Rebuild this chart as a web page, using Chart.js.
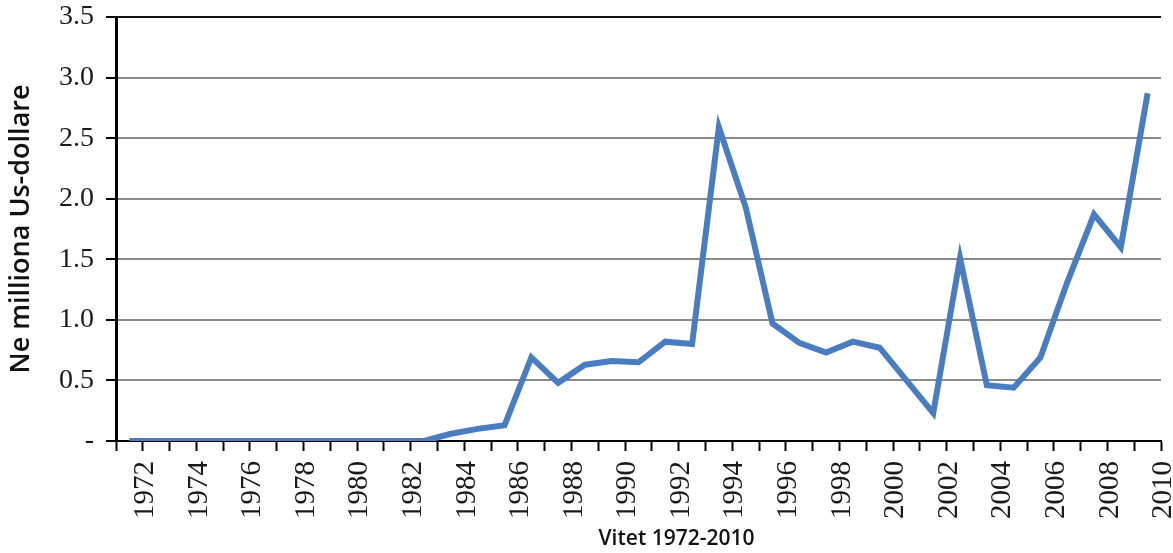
<!DOCTYPE html>
<html>
<head>
<meta charset="utf-8">
<script src="https://cdn.jsdelivr.net/npm/chart.js@4.4.1/dist/chart.umd.min.js"></script>
<style>
    html, body { margin: 0; padding: 0; background: #fff; }
    .wrap { width: 1173px; height: 553px; }
</style>
</head>
<body>
<div class="wrap"><canvas id="aidChart"></canvas></div>
<script>
//! te dhenat
const years = [];
for (let y = 1972; y <= 2010; y++) years.push(String(y));

const values = [
    0, 0, 0, 0, 0, 0, 0, 0, 0, 0, 0, 0,      // 1972-1983
    0.06, 0.10, 0.13, 0.69, 0.48, 0.63, 0.66, 0.65, 0.82, 0.80,  // 1984-1993
    2.59, 1.93, 0.97, 0.81, 0.73, 0.82, 0.77, 0.50, 0.23,        // 1994-2002
    1.51, 0.46, 0.44, 0.69, 1.31, 1.87, 1.60, 2.87               // 2003-2010
];

const yTicks = [0, 0.5, 1.0, 1.5, 2.0, 2.5, 3.0, 3.5];
const xTitle = 'Vitet 1972-2010';

//! titulli poshte (pak djathtas si ne origjinal)
const xTitlePlugin = {
    id: 'xTitle',
    afterDraw(chart) {
        const { ctx, chartArea } = chart;
        ctx.save();
        ctx.font = '600 21px "Open Sans", sans-serif';
        ctx.fillStyle = '#111';
        ctx.textAlign = 'center';
        ctx.textBaseline = 'middle';
        ctx.fillText(xTitle, (chartArea.left + chartArea.right) / 2 + 38, 539);
        ctx.restore();
    }
};

const ctx = document.getElementById('aidChart');

const aidChart = new Chart(ctx, {
    type: 'line',
    data: {
        labels: years,
        datasets: [
            {
                label: 'Ne milliona Us-dollare',
                data: values,
                borderColor: '#4a7dc0',
                borderWidth: 6,
                pointRadius: 0,
                tension: 0,
                borderJoinStyle: 'miter',
            },
        ]
    },
    options: {
        responsive: true,
        maintainAspectRatio: false,
        animation: false,
        layout: {
            padding: { top: 0, right: 12, left: 0, bottom: 0 }
        },
        plugins: {
            legend: { display: false },
            tooltip: { enabled: false },
        },
        scales: {
            x: {
                offset: true,
                grid: {
                    offset: true,
                    drawOnChartArea: false,
                    drawTicks: true,
                    tickLength: 10,
                    tickColor: '#000',
                    tickWidth: 2,
                },
                border: { display: true, color: '#000', width: 2 },
                ticks: {
                    autoSkip: false,
                    minRotation: 90,
                    maxRotation: 90,
                    labelOffset: 16,
                    padding: 10,
                    color: '#1a1a1a',
                    font: { family: '"Liberation Serif", "Times New Roman", serif', size: 29 },
                    callback: function (val, index) {
                        return index % 2 === 0 ? this.getLabelForValue(val) : '';
                    },
                },
                afterFit: (scale) => {
                    scale.height = 112;
                    scale.paddingLeft = 0;
                    scale.paddingRight = 0;
                },
            },
            y: {
                min: 0,
                max: 3.5,
                afterBuildTicks: (scale) => {
                    scale.ticks = yTicks.map(v => ({ value: v }));
                },
                grid: {
                    color: (c) => c.tick && c.tick.value === 3.5 ? '#111' : '#8a8a8a',
                    lineWidth: 2,
                    drawTicks: true,
                    tickLength: 10,
                    tickColor: '#000',
                    tickWidth: 2,
                },
                border: { display: true, color: '#000', width: 3 },
                ticks: {
                    padding: 12,
                    color: '#1a1a1a',
                    font: { family: '"Liberation Serif", "Times New Roman", serif', size: 28 },
                    callback: (v) => v === 0 ? '-' : Number(v).toFixed(1),
                },
                title: {
                    display: true,
                    text: 'Ne milliona Us-dollare',
                    color: '#111',
                    font: { family: '"Open Sans", sans-serif', size: 27, weight: '600' },
                    padding: { top: 5, bottom: 0 },
                },
                afterFit: (scale) => {
                    scale.width = 116;
                    scale.paddingTop = 17;
                    scale.paddingBottom = 0;
                },
            },
        }
    },
    plugins: [xTitlePlugin]
});
</script>
</body>
</html>
